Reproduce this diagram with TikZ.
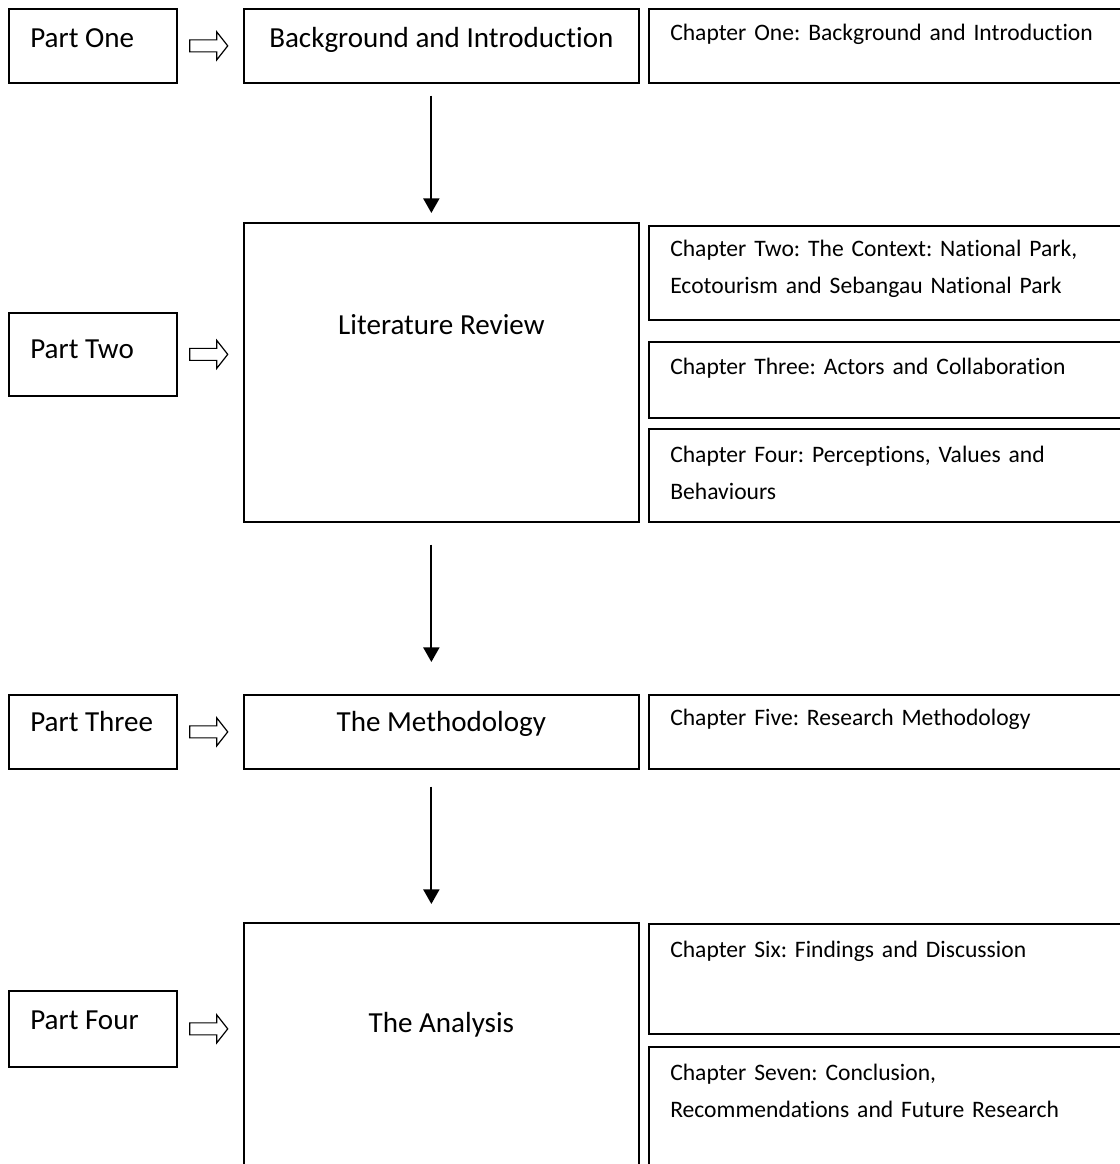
\documentclass[tikz,border=0pt]{standalone}
\usepackage{fontspec}
\setmainfont{Carlito}[Ligatures=NoCommon]
\frenchspacing
\usetikzlibrary{arrows.meta}

\tikzset{
  box/.style={draw, line width=1.3pt, inner sep=0pt, anchor=north west},
  parttext/.style={inner sep=0pt, font=\fontsize{21.8pt}{26pt}\selectfont},
  chaptext/.style={inner sep=0pt, anchor=base west, align=left, text width=340pt,
    font=\fontsize{17.7pt}{27.8pt}\selectfont},
  flow/.style={line width=1.6pt, -{Triangle[length=11pt, width=12pt]}},
  harrow/.pic={\draw[line width=0.9pt] (0,-6) -- (27,-6) -- (27,-14) -- (38,0)
      -- (27,14) -- (27,6) -- (0,6) -- cycle;}
}

\begin{document}
\begin{tikzpicture}[x=0.75pt, y=-0.75pt]
        \useasboundingbox (0,0) rectangle (1120,1164);
        \clip (0,0) rectangle (1120,1164);

        % Parts
        \node[box, minimum width=126pt, minimum height=55.5pt] (part1) at (8,8) {};
        \node[box, minimum width=126pt, minimum height=62.25pt] (part2) at (8,312) {};
        \node[box, minimum width=126pt, minimum height=55.5pt] (part3) at (8,694) {};
        \node[box, minimum width=126pt, minimum height=57pt] (part4) at (8,990) {};
        \node[parttext, anchor=base west] (part1t) at ([shift={(22,39)}]part1.north west) {Part One};
        \node[parttext, anchor=base west] (part2t) at ([shift={(22,46)}]part2.north west) {Part Two};
        \node[parttext, anchor=base west] (part3t) at ([shift={(22,37)}]part3.north west) {Part Three};
        \node[parttext, anchor=base west] (part4t) at ([shift={(22,39)}]part4.north west) {Part Four};

        % Main stages
        \node[box, minimum width=296.25pt, minimum height=55.5pt] (bg) at (243,8) {};
        \node[box, minimum width=296.25pt, minimum height=224.25pt] (lit) at (243,222) {};
        \node[box, minimum width=296.25pt, minimum height=55.5pt] (meth) at (243,694) {};
        \node[box, minimum width=296.25pt, minimum height=195pt] (ana) at (243,922) {};
        \node[parttext, anchor=base] (bgt) at ([shift={(0,39)}]bg.north) {Background and Introduction};
        \node[parttext, anchor=base] (litt) at ([shift={(0,112)}]lit.north) {Literature Review};
        \node[parttext, anchor=base] (metht) at ([shift={(0,37)}]meth.north) {The Methodology};
        \node[parttext, anchor=base] (anat) at ([shift={(0,110)}]ana.north) {The Analysis};

        % Hollow arrows
        \path ([shift={(12,0)}]part1.east) pic {harrow};
        \path ([shift={(12,0)}]part2.east) pic {harrow};
        \path ([shift={(12,0)}]part3.east) pic {harrow};
        \path ([shift={(12,0)}]part4.east) pic {harrow};

        % Flow between stages
        \draw[flow] ([shift={(-10,12)}]bg.south) -- ([shift={(-10,-9)}]lit.north);
        \draw[flow] ([shift={(-10,22)}]lit.south) -- ([shift={(-10,-32)}]meth.north);
        \draw[flow] ([shift={(-10,17)}]meth.south) -- ([shift={(-10,-18)}]ana.north);

        % Chapters
        \node[box, minimum width=360pt, minimum height=55.5pt] (ch1) at (648,8) {};
        \node[box, minimum width=360pt, minimum height=70.5pt] (ch2) at (648,225) {};
        \node[box, minimum width=360pt, minimum height=57pt] (ch3) at (648,341) {};
        \node[box, minimum width=360pt, minimum height=69.75pt] (ch4) at (648,428) {};
        \node[box, minimum width=360pt, minimum height=55.5pt] (ch5) at (648,694) {};
        \node[box, minimum width=360pt, minimum height=82.5pt] (ch6) at (648,923) {};
        \node[box, minimum width=360pt, minimum height=105pt] (ch7) at (648,1046) {};
        \node[chaptext] (ch1t) at ([shift={(22,32)}]ch1.north west) {Chapter One: Background and Introduction};
        \node[chaptext] (ch2t) at ([shift={(22,31)}]ch2.north west) {Chapter Two: The Context: National Park,\\Ecotourism and Sebangau National Park};
        \node[chaptext] (ch3t) at ([shift={(22,33)}]ch3.north west) {Chapter Three: Actors and Collaboration};
        \node[chaptext] (ch4t) at ([shift={(22,34)}]ch4.north west) {Chapter Four: Perceptions, Values and\\Behaviours};
        \node[chaptext] (ch5t) at ([shift={(22,31)}]ch5.north west) {Chapter Five: Research Methodology};
        \node[chaptext] (ch6t) at ([shift={(22,34)}]ch6.north west) {Chapter Six: Findings and Discussion};
        \node[chaptext] (ch7t) at ([shift={(22,34)}]ch7.north west) {Chapter Seven: Conclusion,\\Recommendations and Future Research};
    \end{tikzpicture}
\end{document}
